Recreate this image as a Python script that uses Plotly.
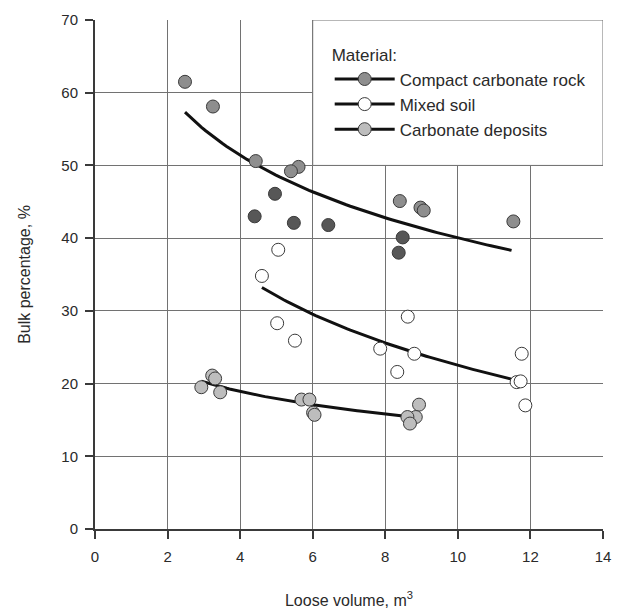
import numpy as np
import plotly.graph_objects as go

# ---- data ----
compact_light_x = [2.48, 3.25, 4.43, 5.61, 5.40, 8.40, 8.97, 9.06, 11.53]
compact_light_y = [61.5, 58.1, 50.6, 49.8, 49.2, 45.1, 44.2, 43.8, 42.3]
compact_dark_x = [4.96, 4.40, 5.48, 6.43, 8.48, 8.37]
compact_dark_y = [46.1, 43.0, 42.1, 41.8, 40.1, 38.0]

mixed_x = [5.05, 4.60, 5.02, 5.51, 8.62, 7.86, 8.80, 8.33, 11.76, 11.62, 11.73, 11.86]
mixed_y = [38.4, 34.8, 28.3, 25.9, 29.2, 24.8, 24.1, 21.6, 24.1, 20.2, 20.3, 17.0]

deposits_x = [3.23, 3.31, 2.93, 3.45, 5.69, 5.91, 6.01, 6.05, 8.93, 8.84, 8.61, 8.68]
deposits_y = [21.1, 20.7, 19.5, 18.8, 17.8, 17.8, 16.0, 15.7, 17.1, 15.4, 15.4, 14.5]

# x-extent of each drawn trend curve
compact_trend_range = [2.48, 11.48]
mixed_trend_range = [4.60, 11.48]
deposits_trend_range = [2.93, 8.49]

legend_names = ["Compact carbonate rock", "Mixed soil", "Carbonate deposits"]
x_ticks = [0, 2, 4, 6, 8, 10, 12, 14]
y_ticks = [0, 10, 20, 30, 40, 50, 60, 70]

FONT = "Liberation Sans, Arial, sans-serif"
TXT = "#2a2a2a"
EDGE = "#3a3a3a"
C_COMPACT = "#8e8e8e"
C_DARK = "#575757"
C_MIXED = "#ffffff"
C_DEP = "#bdbdbd"


def log_trend(xs, ys, rng):
    b, a = np.polyfit(np.log(xs), ys, 1)
    xx = np.linspace(rng[0], rng[1], 80)
    return xx, a + b * np.log(xx)


fig = go.Figure()

mk = lambda c: dict(size=13, color=c, line=dict(color=EDGE, width=1))

cx = compact_light_x + compact_dark_x
cy = compact_light_y + compact_dark_y
for xs, ys, rng in [(cx, cy, compact_trend_range),
                    (mixed_x, mixed_y, mixed_trend_range),
                    (deposits_x, deposits_y, deposits_trend_range)]:
    tx, ty = log_trend(np.array(xs), np.array(ys), rng)
    fig.add_trace(go.Scatter(x=tx, y=ty, mode="lines", showlegend=False,
                             line=dict(color="#111111", width=3), hoverinfo="skip"))

fig.add_trace(go.Scatter(x=compact_light_x, y=compact_light_y, mode="markers",
                         marker=mk(C_COMPACT), showlegend=False))
fig.add_trace(go.Scatter(x=compact_dark_x, y=compact_dark_y, mode="markers",
                         marker=mk(C_DARK), showlegend=False))
fig.add_trace(go.Scatter(x=mixed_x, y=mixed_y, mode="markers",
                         marker=mk(C_MIXED), showlegend=False))
fig.add_trace(go.Scatter(x=deposits_x, y=deposits_y, mode="markers",
                         marker=mk(C_DEP), showlegend=False))

# legend entries
for name, c in zip(legend_names, [C_COMPACT, C_MIXED, C_DEP]):
    fig.add_trace(go.Scatter(x=[None], y=[None], mode="lines+markers", name=name,
                             line=dict(color="#111111", width=3), marker=mk(c)))

# white legend box covering the grid
fig.add_shape(type="rect", xref="x", yref="y", x0=6, x1=14, y0=50, y1=70,
              fillcolor="white", line=dict(color="#707070", width=1), layer="between")

axis_common = dict(
    showgrid=True, gridcolor="#727272", gridwidth=1,
    showline=True, linecolor=EDGE, linewidth=2,
    ticks="outside", ticklen=8, tickwidth=2, tickcolor=EDGE,
    tickfont=dict(family=FONT, size=15, color=TXT),
    zeroline=False, automargin=False,
)

fig.update_xaxes(range=[0, 14], tickvals=x_ticks, ticklabelstandoff=5, **axis_common,
                 title=dict(text="Loose volume, m<sup>3</sup>",
                            font=dict(family=FONT, size=16, color=TXT), standoff=31))
fig.update_yaxes(range=[0, 70], tickvals=y_ticks, ticklabelstandoff=4, **axis_common,
                 title=dict(text="Bulk percentage, %",
                            font=dict(family=FONT, size=16, color=TXT), standoff=27))

fig.update_layout(
    width=626, height=610,
    margin=dict(l=95, r=23, t=20, b=81),
    paper_bgcolor="white", plot_bgcolor="white",
    font=dict(family=FONT, color=TXT),
    legend=dict(x=0.462, y=0.962, xanchor="left", yanchor="top",
                bgcolor="rgba(0,0,0,0)", borderwidth=0,
                title=dict(text="Material:", font=dict(family=FONT, size=17, color=TXT)),
                font=dict(family=FONT, size=17, color=TXT),
                tracegroupgap=0, itemwidth=60),
)

fig.write_html("out.html")
